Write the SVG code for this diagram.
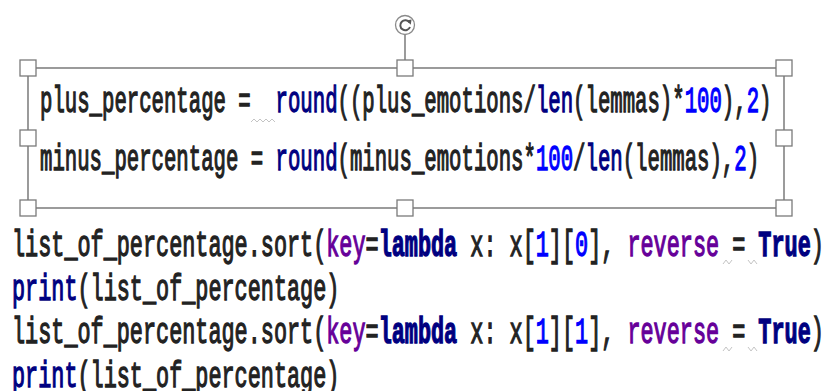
<svg xmlns="http://www.w3.org/2000/svg" width="827" height="391" viewBox="0 0 827 391">
<defs>
<style>
.code{font-family:"Liberation Mono","DejaVu Sans Mono",monospace;font-size:37px;fill:#222;stroke:#222;stroke-width:1.3;white-space:pre}
.b{fill:#000080;stroke:#000080}
.n{fill:#0000ff;stroke:#0000ff}
.k{fill:#660099;stroke:#660099}
.kw{fill:#000080;stroke:#000080;font-weight:bold}
.h{fill:#fff;stroke:#7a7a7a;stroke-width:1.3}
.sq{fill:none;stroke:#c4c4c4;stroke-width:1}
</style>
</defs>
<rect width="827" height="391" fill="#fff"/>
<g id="frame">
<rect x="28" y="68" width="756" height="140" fill="none" stroke="#666" stroke-width="1.3"/>
<line x1="405" y1="34" x2="405" y2="60" stroke="#666" stroke-width="1.3"/>
</g>
<g id="rotate-handle">
<circle cx="405" cy="25" r="9.5" fill="#fff" stroke="#8a8a8a" stroke-width="1.3"/>
<path d="M409.5 22.5 A5 5 0 1 0 410 27" fill="none" stroke="#555" stroke-width="2"/>
<path d="M406.5 20.5 L411.5 19.5 L410.8 24.8 Z" fill="#555"/>
</g>
<g id="handles">
<rect class="h" x="20" y="60" width="16" height="16"/>
<rect class="h" x="397" y="60" width="16" height="16"/>
<rect class="h" x="776" y="60" width="16" height="16"/>
<rect class="h" x="20" y="130" width="16" height="16"/>
<rect class="h" x="776" y="130" width="16" height="16"/>
<rect class="h" x="20" y="200" width="16" height="16"/>
<rect class="h" x="397" y="200" width="16" height="16"/>
<rect class="h" x="776" y="200" width="16" height="16"/>
</g>
<g id="code">
<text class="code" transform="translate(40 112) scale(0.5586 1)">plus_percentage =  <tspan class="b">round</tspan>((plus_emotions/<tspan class="b">len</tspan>(lemmas)*<tspan class="n">100</tspan>),<tspan class="n">2</tspan>)</text>
<text class="code" transform="translate(40 170) scale(0.5586 1)">minus_percentage = <tspan class="b">round</tspan>(minus_emotions*<tspan class="n">100</tspan>/<tspan class="b">len</tspan>(lemmas),<tspan class="n">2</tspan>)</text>
<text class="code" transform="translate(12 256) scale(0.5901 1)">list_of_percentage.sort(<tspan class="k">key</tspan>=<tspan class="kw">lambda</tspan> x: x[<tspan class="n">1</tspan>][<tspan class="n">0</tspan>], <tspan class="k">reverse</tspan> = <tspan class="kw">True</tspan>)</text>
<text class="code" transform="translate(12 300) scale(0.5901 1)"><tspan class="b">print</tspan>(list_of_percentage)</text>
<text class="code" transform="translate(12 343) scale(0.5901 1)">list_of_percentage.sort(<tspan class="k">key</tspan>=<tspan class="kw">lambda</tspan> x: x[<tspan class="n">1</tspan>][<tspan class="n">1</tspan>], <tspan class="k">reverse</tspan> = <tspan class="kw">True</tspan>)</text>
<text class="code" transform="translate(12 387) scale(0.5901 1)"><tspan class="b">print</tspan>(list_of_percentage)</text>
</g>
<g id="squiggles">
<path class="sq" d="M251 122 l3 -3 l3 3 l3 -3 l3 3 l3 -3 l3 3 l3 -3 l3 3"/>
<path class="sq" d="M723 264 l3 -4 l3 4 l3 -4"/>
<path class="sq" d="M748 260 l3 4 l3 -4 l3 4"/>
<path class="sq" d="M723 351 l3 -4 l3 4 l3 -4"/>
<path class="sq" d="M748 347 l3 4 l3 -4 l3 4"/>
</g>
</svg>
